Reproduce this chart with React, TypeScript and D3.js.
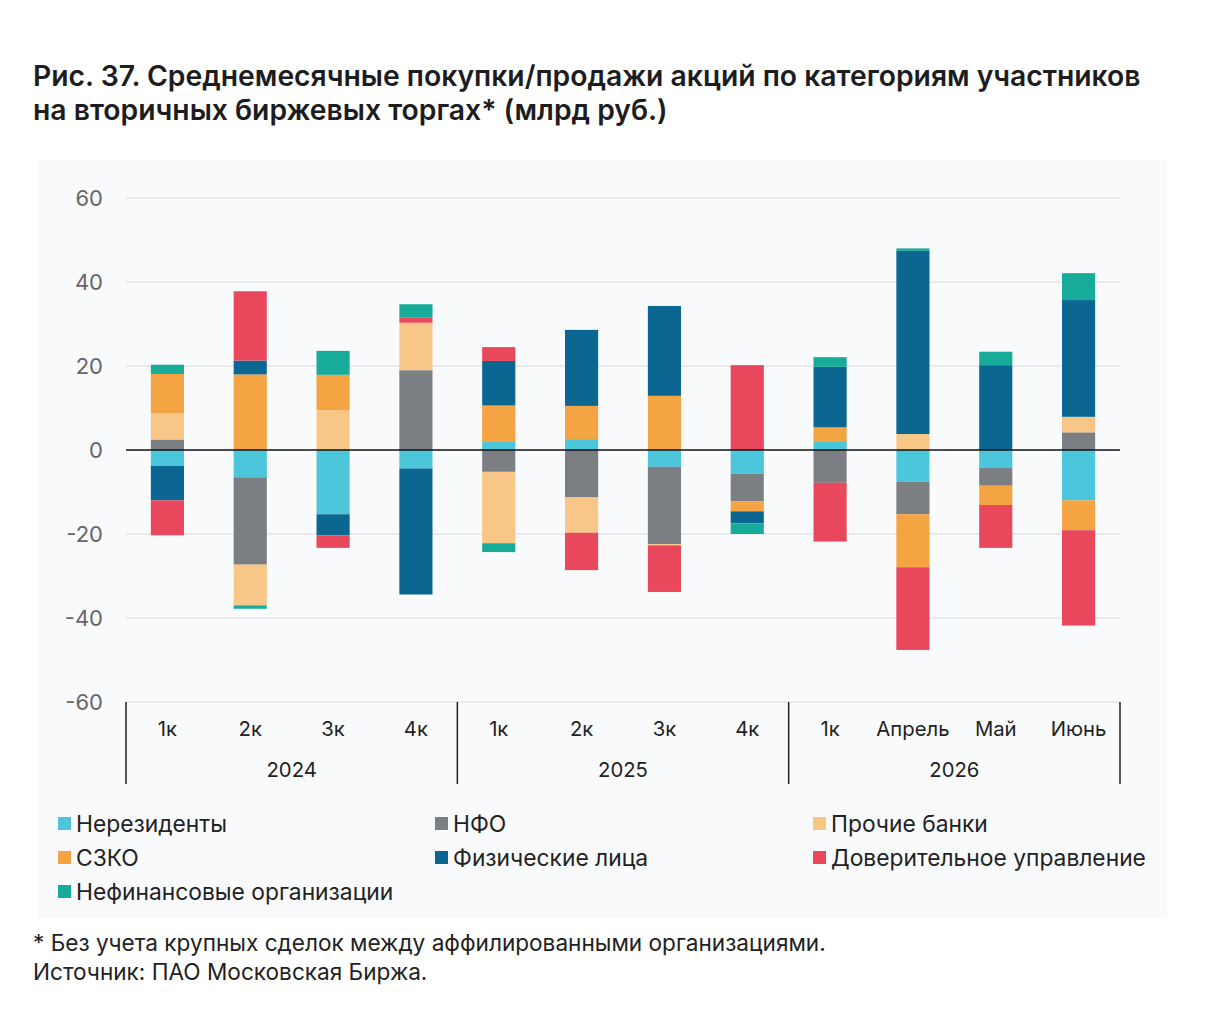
import React from "react";
import * as d3 from "d3";

// Periods (quarters and months) grouped by year
const periods = ["1к", "2к", "3к", "4к", "1к", "2к", "3к", "4к", "1к", "Апрель", "Май", "Июнь"];
const years = ["2024", "2025", "2026"];
const periodsPerYear = [4, 4, 4];

// Participant categories in stacking order
const seriesNames = [
  "Нерезиденты",
  "НФО",
  "Прочие банки",
  "СЗКО",
  "Физические лица",
  "Доверительное управление",
  "Нефинансовые организации",
];
const seriesColors = ["#4cc6db", "#7b7e83", "#f8c787", "#f5a443", "#0b6791", "#e9485c", "#17ab9a"];

// Net purchases (+) / sales (−), bn RUB, by category per period
const nonResidents = [-3.8, -6.5, -15.3, -4.4, 1.9, 2.6, -4.0, -5.7, 2.1, -7.6, -4.3, -12.0];
const nfo = [2.5, -20.8, 0, 19.0, -5.2, -11.3, -18.4, -6.5, -7.8, -7.7, -4.2, 4.2];
const otherBanks = [6.2, -9.7, 9.5, 11.3, -17.0, -8.4, -0.3, 0, 0, 3.8, 0, 3.7];
const szko = [9.4, 18.0, 8.4, 0, 8.7, 7.9, 12.9, -2.4, 3.3, -12.6, -4.6, -7.1];
const individuals = [-8.2, 3.3, -5.0, -30.0, 10.6, 18.1, 21.4, -2.9, 14.4, 43.6, 20.2, 27.8];
const trustMgmt = [-8.3, 16.5, -3.0, 1.2, 3.3, -8.9, -11.1, 20.2, -14.0, -19.7, -10.2, -22.7];
const nonFinancial = [2.2, -0.8, 5.7, 3.2, -2.1, 0, 0, -2.5, 2.3, 0.6, 3.2, 6.4];

const seriesValues = [nonResidents, nfo, otherBanks, szko, individuals, trustMgmt, nonFinancial];

const yTicks = [-60, -40, -20, 0, 20, 40, 60];

const W = 1214;
const H = 1011;
const margin = { left: 126, right: 1120, top: 198, bottom: 702 };
const FONT = "Inter, 'Open Sans', sans-serif";

export default function App() {
  const rows = periods.map((_, i) => {
    const r: Record<string, number> = { idx: i };
    seriesNames.forEach((s, k) => (r[s] = seriesValues[k][i]));
    return r;
  });

  const stack = d3
    .stack<Record<string, number>>()
    .keys(seriesNames)
    .offset(d3.stackOffsetDiverging);
  const layers = stack(rows);

  const x = d3
    .scaleBand<number>()
    .domain(periods.map((_, i) => i))
    .range([margin.left, margin.right])
    .paddingInner(0.6)
    .paddingOuter(0.3);

  const y = d3.scaleLinear().domain([-60, 60]).range([margin.bottom, margin.top]);

  const step = x.step();
  const axisLeft = margin.left;
  const yearBounds: number[] = [axisLeft];
  let acc = 0;
  periodsPerYear.forEach((n) => {
    acc += n;
    yearBounds.push(axisLeft + step * acc);
  });

  const legendCols = [58, 435, 813];
  const legendRows = [824, 858, 892];

  return (
    <svg
      width={W}
      height={H}
      style={{ position: "absolute", left: 0, top: 0, background: "#fff" }}
      fontFamily={FONT}
    >
      <rect x={0} y={0} width={W} height={H} fill="#fff" />
      <text x={33} y={86} fontSize={28.3} fontWeight={600} fill="#1d1d1f">
        Рис. 37. Среднемесячные покупки/продажи акций по категориям участников
      </text>
      <text x={33} y={120} fontSize={28.3} fontWeight={600} fill="#1d1d1f">
        на вторичных биржевых торгах* (млрд руб.)
      </text>

      <rect x={38} y={160} width={1129} height={758} fill="#f9fafc" />

      {yTicks.map((t) => (
        <g key={t}>
          {t !== 0 && (
            <line x1={margin.left} x2={margin.right} y1={y(t)} y2={y(t)} stroke="#e3e5ea" strokeWidth={1.5} />
          )}
          <text x={103} y={y(t)} dy="0.35em" textAnchor="end" fontSize={22} fill="#666">
            {t}
          </text>
        </g>
      ))}

      {layers.map((layer, k) => (
        <g key={layer.key} fill={seriesColors[k]}>
          {layer.map((d, i) => {
            const h = y(d[0]) - y(d[1]);
            if (Math.abs(h) < 0.01) return null;
            return (
              <rect
                key={i}
                x={x(i)!}
                y={Math.min(y(d[0]), y(d[1]))}
                width={x.bandwidth()}
                height={Math.abs(h)}
              />
            );
          })}
        </g>
      ))}

      <line x1={margin.left} x2={margin.right} y1={y(0)} y2={y(0)} stroke="#111" strokeWidth={1.5} />

      {yearBounds.map((bx, i) => (
        <line key={i} x1={bx} x2={bx} y1={702} y2={784} stroke="#222" strokeWidth={1.5} />
      ))}

      {periods.map((p, i) => (
        <text
          key={i}
          x={x(i)! + x.bandwidth() / 2}
          y={736}
          textAnchor="middle"
          fontSize={20.3}
          fill="#222"
        >
          {p}
        </text>
      ))}

      {years.map((yr, i) => (
        <text
          key={yr}
          x={(yearBounds[i] + yearBounds[i + 1]) / 2}
          y={777}
          textAnchor="middle"
          fontSize={20.3}
          fill="#222"
        >
          {yr}
        </text>
      ))}

      {seriesNames.map((s, k) => {
        const col = k % 3;
        const row = Math.floor(k / 3);
        const lx = legendCols[col];
        const ly = legendRows[row];
        return (
          <g key={s}>
            <rect x={lx} y={ly - 7} width={13} height={13} fill={seriesColors[k]} />
            <text x={lx + 18} y={ly} dy="0.35em" fontSize={22.8} fill="#222">
              {s}
            </text>
          </g>
        );
      })}

      <text x={33} y={951} fontSize={22.6} fill="#222">
        * Без учета крупных сделок между аффилированными организациями.
      </text>
      <text x={33} y={980} fontSize={22.6} fill="#222">
        Источник: ПАО Московская Биржа.
      </text>
    </svg>
  );
}
